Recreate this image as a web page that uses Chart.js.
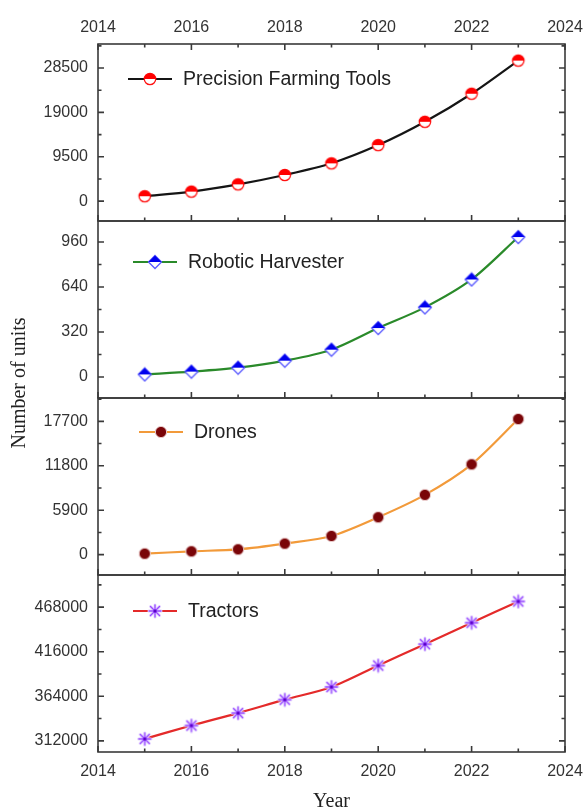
<!DOCTYPE html>
<html>
<head>
<meta charset="utf-8">
<script src="https://cdn.jsdelivr.net/npm/chart.js@4.4.1/dist/chart.umd.min.js"></script>
<style>
body { margin: 0; background: #fff; }
</style>
</head>
<body>
<canvas id="chart" width="587" height="809"></canvas>
<script>
var years = [2015, 2016, 2017, 2018, 2019, 2020, 2021, 2022, 2023];
var precisionTools = [1050, 2050, 3600, 5600, 8100, 12000, 17000, 23000, 30100];
var roboticHarvester = [18, 38, 66, 116, 194, 348, 495, 694, 996];
var drones = [130, 440, 710, 1470, 2480, 4970, 7940, 11990, 18010];
var tractors = [314300, 329900, 344400, 360100, 374900, 399900, 424800, 449800, 474700];

var yearTicks = [2014, 2016, 2018, 2020, 2022, 2024];
var precisionTicks = [0, 9500, 19000, 28500];
var harvesterTicks = [0, 320, 640, 960];
var droneTicks = [0, 5900, 11800, 17700];
var tractorTicks = [312000, 364000, 416000, 468000];

var precisionRange = [-4250, 33650];
var harvesterRange = [-150, 1110];
var droneRange = [-2700, 20800];
var tractorRange = [299000, 505500];

var tickFont = { family: 'Liberation Sans', size: 16 };
var axisColor = '#333';

function makeMarker(draw) {
	var c = document.createElement('canvas');
	c.width = 16; c.height = 16;
	draw(c.getContext('2d'));
	return c;
}

var halfCircle = makeMarker(function (g) {
	g.beginPath(); g.arc(8, 8, 5.7, 0, Math.PI * 2);
	g.fillStyle = '#fff'; g.fill();
	g.lineWidth = 1.3; g.strokeStyle = '#ff1010'; g.stroke();
	g.beginPath(); g.arc(8, 8, 5.7, Math.PI, Math.PI * 2); g.closePath();
	g.fillStyle = '#ff0000'; g.fill();
})
var halfDiamond = makeMarker(function (g) {
	g.beginPath(); g.moveTo(8, 1.5); g.lineTo(14.5, 8); g.lineTo(8, 14.5); g.lineTo(1.5, 8); g.closePath();
	g.fillStyle = '#fff'; g.fill();
	g.lineWidth = 1.3; g.strokeStyle = '#5a5aff'; g.stroke();
	g.beginPath(); g.moveTo(1.5, 8); g.lineTo(8, 1.5); g.lineTo(14.5, 8); g.closePath();
	g.fillStyle = '#0000ee'; g.fill();
})
var dot = makeMarker(function (g) {
	g.beginPath(); g.arc(8, 8, 5.6, 0, Math.PI * 2);
	g.fillStyle = '#7a0508'; g.fill();
	g.lineWidth = 1; g.strokeStyle = '#e8c8c8'; g.stroke();
})
var star = makeMarker(function (g) {
	var arms = [[0, -6], [0, 6], [-6, 0], [6, 0], [-4.5, -4.5], [4.5, 4.5], [-4.5, 4.5], [4.5, -4.5]];
	function strokeArms(w, col) {
		g.beginPath();
		arms.forEach(function (a) { g.moveTo(8, 8); g.lineTo(8 + a[0], 8 + a[1]); });
		g.lineWidth = w; g.strokeStyle = col; g.lineCap = 'round'; g.stroke();
	}
	strokeArms(3, '#e2d2ff');
	strokeArms(1.3, '#9a4cff');
	g.beginPath(); g.arc(8, 8, 1.6, 0, Math.PI * 2); g.fillStyle = '#5a00c8'; g.fill();
})

var panels = [
	{ id: 'y1', label: 'Precision Farming Tools', values: precisionTools, ticks: precisionTicks, range: precisionRange, color: '#151515', marker: halfCircle, legend: [128, 79] },
	{ id: 'y2', label: 'Robotic Harvester', values: roboticHarvester, ticks: harvesterTicks, range: harvesterRange, color: '#2a8a2a', marker: halfDiamond, legend: [133, 262] },
	{ id: 'y3', label: 'Drones', values: drones, ticks: droneTicks, range: droneRange, color: '#f29a3a', marker: dot, legend: [139, 432] },
	{ id: 'y4', label: 'Tractors', values: tractors, ticks: tractorTicks, range: tractorRange, color: '#e42a2a', marker: star, legend: [133, 611] }
]

function fixedTicks(list) {
	return function (scale) { scale.ticks = list.map(function (v) { return { value: v } }) }
}
function noSidePadding(height) {
	return function (s) { s.height = height; s.paddingLeft = 0; s.paddingRight = 0 }
}

var scales = {
	x: {
		type: 'linear', position: 'bottom', min: 2014, max: 2024,
		afterBuildTicks: fixedTicks(yearTicks),
		afterFit: noSidePadding(57),
		ticks: { padding: 10, font: tickFont, color: axisColor, callback: function (v) { return String(v) } },
		grid: { display: false, drawTicks: false }, border: { display: false },
		title: { display: true, text: 'Year', font: { family: 'Liberation Serif', size: 20 }, color: '#222', padding: { top: 0, bottom: -5 } }
	},
	xTop: {
		type: 'linear', position: 'top', min: 2014, max: 2024,
		afterBuildTicks: fixedTicks(yearTicks),
		afterFit: noSidePadding(44),
		ticks: { padding: 7, font: tickFont, color: axisColor, callback: function (v) { return String(v) } },
		grid: { display: false, drawTicks: false }, border: { display: false }
	}
}
// stacked axes are placed bottom-up, so add the lowest panel first
panels.slice().reverse().forEach(function (p) {
	scales[p.id] = {
		type: 'linear', position: 'left', stack: 'panels', stackWeight: 1,
		min: p.range[0], max: p.range[1],
		afterBuildTicks: fixedTicks(p.ticks),
		afterFit: function (s) { s.width = 98 },
		ticks: { padding: 10, font: tickFont, color: axisColor, callback: function (v) { return String(v) } },
		grid: { display: false, drawTicks: false }, border: { display: false }
	}
})

var framePlugin = {
	id: 'frame',
	afterDraw: function (chart) {
		var ctx = chart.ctx;
		var area = chart.chartArea;
		var xs = chart.scales.x;
		ctx.save();
		panels.forEach(function (p, i) {
			var s = chart.scales[p.id];
			ctx.strokeStyle = '#3a3a3a';
			ctx.lineWidth = 1.6;
			ctx.strokeRect(area.left, s.top, area.right - area.left, s.bottom - s.top);
			ctx.beginPath();
			// x ticks: bottom of every panel, top of the first one
			for (var yr = 2014; yr <= 2024; yr++) {
				var px = xs.getPixelForValue(yr);
				var len = yr % 2 === 0 ? 6 : 3.5;
				ctx.moveTo(px, s.bottom); ctx.lineTo(px, s.bottom - len);
				if (i === 0) { ctx.moveTo(px, s.top); ctx.lineTo(px, s.top + len); }
			}
			// y ticks on both sides
			var step = p.ticks[1] - p.ticks[0];
			for (var v = p.ticks[0] - step; v <= p.ticks[p.ticks.length - 1] + step; v += step / 2) {
				if (v <= p.range[0] || v >= p.range[1]) continue;
				var py = s.getPixelForValue(v);
				var major = ((v - p.ticks[0]) / step) % 1 === 0;
				var l = major ? 6 : 3.5;
				ctx.moveTo(area.left, py); ctx.lineTo(area.left + l, py);
				ctx.moveTo(area.right, py); ctx.lineTo(area.right - l, py);
			}
			ctx.stroke();

			// legend
			var lx = p.legend[0], ly = p.legend[1];
			ctx.beginPath();
			ctx.moveTo(lx, ly); ctx.lineTo(lx + 44, ly);
			ctx.lineWidth = 2.2; ctx.strokeStyle = p.color; ctx.stroke();
			ctx.drawImage(p.marker, lx + 22 - 8, ly - 8);
			ctx.fillStyle = '#222';
			ctx.font = '19.5px "Liberation Sans"';
			ctx.textBaseline = 'middle';
			ctx.textAlign = 'left';
			ctx.fillText(p.label, lx + 55, ly + 1);
		})
		// y axis title
		ctx.translate(20, 383);
		ctx.rotate(-Math.PI / 2);
		ctx.fillStyle = '#222';
		ctx.font = '20px "Liberation Serif"';
		ctx.textAlign = 'center';
		ctx.textBaseline = 'middle';
		ctx.fillText('Number of units', 0, 0);
		ctx.restore();
	}
}

var chart = new Chart(document.getElementById('chart'), {
	type: 'line',
	data: {
		datasets: panels.map(function (p) {
			return {
				label: p.label,
				data: years.map(function (y, i) { return { x: y, y: p.values[i] } }),
				yAxisID: p.id,
				xAxisID: 'x',
				borderColor: p.color,
				borderWidth: 2.2,
				tension: 0.3,
				pointStyle: p.marker,
				pointRadius: 6,
				fill: false
			}
		})
	},
	options: {
		responsive: false,
		animation: false,
		layout: { padding: { left: 0, right: 22, top: 0, bottom: 0 } },
		plugins: { legend: { display: false }, tooltip: { enabled: false } },
		scales: scales
	},
	plugins: [framePlugin]
})
</script>
</body>
</html>
